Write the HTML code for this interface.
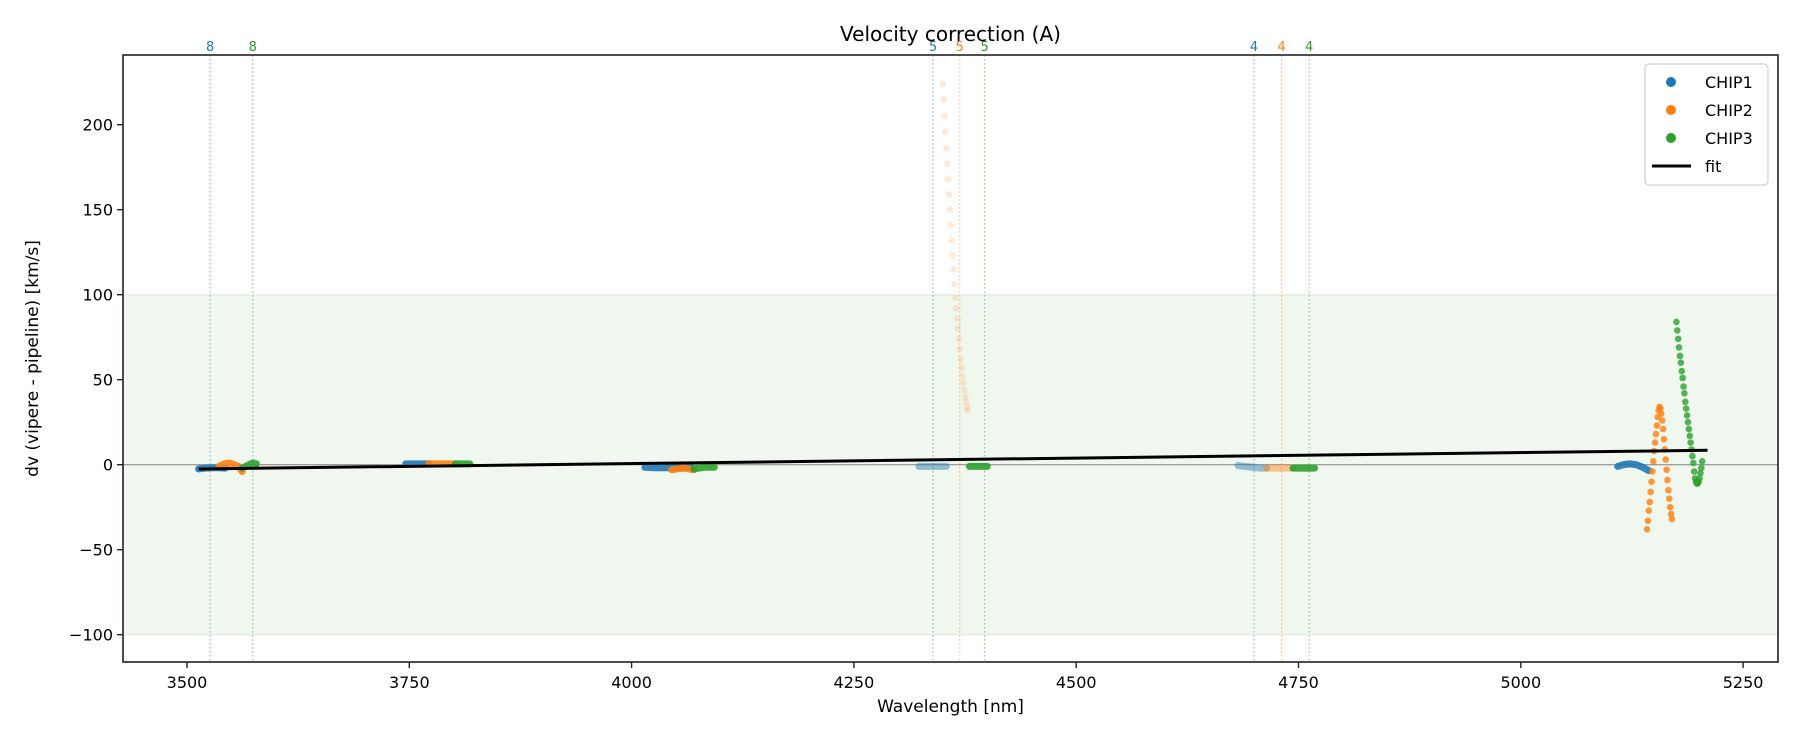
<!DOCTYPE html>
<html><head><meta charset="utf-8"><style>
body{margin:0;background:#fff;}
svg text{font-family:"DejaVu Sans","Liberation Sans",sans-serif;}
</style></head><body>
<svg id="c" width="1800" height="750" xmlns="http://www.w3.org/2000/svg">
<rect width="1800" height="750" fill="#fff"/>
<g id="bg"></g><g id="marks"></g><g id="axes"></g>
</svg>
<script>
const chip1Segs = [
 {w:[3513,3520,3528,3536,3543], v:[-2.5,-2,-1.8,-1.8,-2]},
 {w:[3746,3752,3759,3766,3772], v:[0.5,0.5,0.5,0.5,0.5]},
 {w:[4015,4025,4035,4045,4055,4067], v:[-1.5,-1.8,-1.8,-1.8,-1.8,-1.5]},
 {w:[4323,4331,4339,4347,4354], v:[-1,-1,-1,-1,-1], a:0.5},
 {w:[4682,4690,4698,4706,4714], v:[-0.5,-1,-1.5,-2,-2], a:0.5},
 {w:[5109,5115,5122,5130,5137,5144], v:[-1,0,0.5,0,-1.5,-3.5]}
];
const chip2Segs = [
 {w:[3536,3542,3548,3553,3558,3562], v:[-1,0.5,1,0,-1,-4]},
 {w:[3772,3780,3788,3795,3802], v:[0.5,0.5,0.5,0.5,0.5]},
 {w:[4045,4051,4058,4064,4070], v:[-3,-2.5,-2,-2.5,-3]},
 {w:[4350,4351,4352,4353,4354,4355,4356,4357,4358,4359,4360,4361,4362,4363,4364,4365,4366,4367,4368,4369,4370,4371,4372,4373,4374,4375,4376,4377,4378],
  v:[224,215,205,196,186,177,168,159,150,141,132,123,115,106,98,92,86,80,74,68,62,57,52,48,44,40,37,34,32], a:0.2, sparse:true},
 {w:[4714,4722,4730,4737,4744], v:[-2,-2,-2,-2,-2], a:0.5},
 {w:[5142,5143,5144,5145,5146,5147,5148,5149,5150,5151,5152,5153,5154,5155,5156,5157,5158,5159,5160,5161,5162,5163,5164,5165,5166,5167,5168,5169,5170],
  v:[-38,-33,-27,-22,-16,-10,-4,2,8,13,18,23,28,32,34,33,30,26,21,15,9,3,-3,-9,-15,-20,-25,-29,-32], sparse:true}
];
const chip3Segs = [
 {w:[3562,3566,3570,3574,3578], v:[-2,-1,0,1,0.5]},
 {w:[3802,3806,3810,3814,3818], v:[0.5,0.5,0.5,0.5,0.5]},
 {w:[4070,4076,4082,4088,4093], v:[-2.5,-2,-1.5,-1.5,-1.5]},
 {w:[4380,4385,4390,4395,4400], v:[-1,-1,-1,-1,-1]},
 {w:[4744,4750,4756,4762,4768], v:[-2,-2,-2,-2,-2]},
 {w:[5175,5176,5177,5178,5179,5180,5181,5182,5183,5184,5185,5186,5187,5188,5189,5190,5191,5192,5193,5194,5195,5196,5197,5198,5199,5200,5201,5202,5203,5204],
  v:[84,79,74,69,64,60,55,51,46,42,37,33,29,25,21,17,13,9,5,1,-4,-8,-10,-11,-11,-10,-8,-5,-2,2], sparse:true}
];
const fitW = [3513, 5210];
const fitV = [-2.5, 8.5];
const lineW = [3526,3574,4339,4369,4397,4700,4731,4762];
const lineLab = ['8','8','5','5','5','4','4','4'];
const lineChip = [0,2,0,1,2,0,1,2];
const xTicks = [3500,3750,4000,4250,4500,4750,5000,5250];
const yTicks = [-100,-50,0,50,100,150,200];

const colors = ['#1f77b4','#ff7f0e','#2ca02c'];
const L=123,R=1778,T=55,B=662;
const X = w => 187 + (w-3500)*222.3/250;
const Y = v => 464.7 - v*1.7;
const NS='http://www.w3.org/2000/svg';
function mk(tag, attrs, parent){const e=document.createElementNS(NS,tag);for(const k in attrs)e.setAttribute(k,attrs[k]);document.getElementById(parent).appendChild(e);return e;}

let band = mk('rect',{x:L,y:Y(100),width:R-L,height:Y(-100)-Y(100),fill:'#f0f7ef',stroke:'#e0efe0','stroke-width':1.5},'bg');


let zl = mk('line',{x1:L,x2:R,y1:Y(0),y2:Y(0),stroke:'#808080','stroke-width':1},'bg');



lineW.forEach((w,i)=>{
  const c=colors[lineChip[i]];
  const l=mk('line',{x1:X(w),x2:X(w),y1:T,y2:B,stroke:c,'stroke-width':1.2,'stroke-dasharray':'1.5,2.5',opacity:0.5},'bg');
  
  
  const t=mk('text',{x:X(w),y:T-4,'text-anchor':'middle','font-size':13,fill:c},'bg');
  t.textContent=lineLab[i];
  
  
});

[chip1Segs,chip2Segs,chip3Segs].forEach((segs,ci)=>{
  segs.forEach(s=>{
    const op = s.a||1;
    if(!s.sparse){
      const p=mk('polyline',{points:s.w.map((w,i)=>X(w)+','+Y(s.v[i])).join(' '),fill:'none',stroke:colors[ci],'stroke-width':7,'stroke-linecap':'round','stroke-linejoin':'round',opacity:op*0.9},'marks');
      
      
    } else {
      s.w.forEach((w,i)=>{
        const c=mk('circle',{cx:X(w),cy:Y(s.v[i]),r:3.3,fill:colors[ci],opacity:op*0.8},'marks');
        
        
      });
    }
  });
});
let fl = mk('line',{x1:X(fitW[0]),y1:Y(fitV[0]),x2:X(fitW[1]),y2:Y(fitV[1]),stroke:'#000','stroke-width':3},'marks');



let fr = mk('rect',{x:L,y:T,width:R-L,height:B-T,fill:'none',stroke:'#222','stroke-width':1.6},'axes');


xTicks.forEach(v=>{
  mk('line',{x1:X(v),x2:X(v),y1:B,y2:B+6,stroke:'#222','stroke-width':1.4},'axes');
  const t=mk('text',{x:X(v),y:B+26,'text-anchor':'middle','font-size':16,fill:'#000'},'axes');
  t.textContent=v;
  
  
});
yTicks.forEach(v=>{
  mk('line',{x1:L-6,x2:L,y1:Y(v),y2:Y(v),stroke:'#222','stroke-width':1.4},'axes');
  const t=mk('text',{x:L-10,y:Y(v)+6,'text-anchor':'end','font-size':16,fill:'#000'},'axes');
  t.textContent=v<0?'\u2212'+(-v):v;
  
  
});
let xt=mk('text',{x:(L+R)/2,y:B+50,'text-anchor':'middle','font-size':17},'axes');
xt.textContent='Wavelength [nm]';


let yt=mk('text',{x:0,y:0,'text-anchor':'middle','font-size':17,transform:'translate(38,'+(T+B)/2+') rotate(-90)'},'axes');
yt.textContent='dv (vipere - pipeline) [km/s]';


let tt=mk('text',{x:(L+R)/2,y:41,'text-anchor':'middle','font-size':20},'axes');
tt.textContent='Velocity correction (A)';



let lg=mk('rect',{x:1645,y:64,width:123,height:121,rx:4,fill:'#fff',stroke:'#ccc','stroke-width':1.2,opacity:0.9},'axes');


['CHIP1','CHIP2','CHIP3','fit'].forEach((n,i)=>{
  const y=82+i*28;
  if(i<3){const c=mk('circle',{cx:1671,cy:y,r:5,fill:colors[i]},'axes');
    
    }
  else{const l=mk('line',{x1:1652,x2:1691,y1:y,y2:y,stroke:'#000','stroke-width':3},'axes');
    
    }
  const t=mk('text',{x:i<3?1705:1705,y:y+6,'font-size':16},'axes');
  t.textContent=n;
  
  
});
</script>
</body></html>
